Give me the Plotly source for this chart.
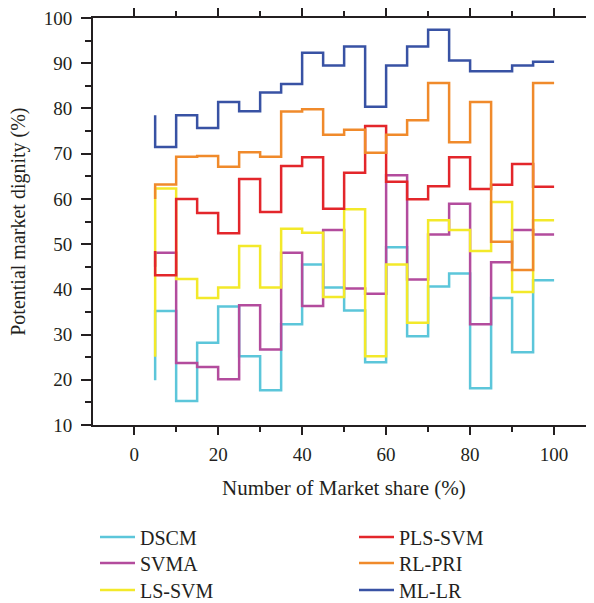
import plotly.graph_objects as go

# Data
x_share = [5, 10, 15, 20, 25, 30, 35, 40, 45, 50, 55, 60, 65, 70, 75, 80, 85, 90, 95, 100]

dscm = [19.9, 35.2, 15.3, 28.2, 36.2, 25.2, 17.7, 32.3, 45.5, 40.4,
        35.3, 23.9, 49.3, 29.6, 40.6, 43.5, 18.1, 38.1, 26.1, 42.0]
svma = [45.0, 48.1, 23.7, 22.8, 20.1, 36.5, 26.7, 48.1, 36.3, 53.1,
        40.2, 39.0, 65.2, 42.2, 52.1, 58.9, 32.3, 46.0, 53.1, 52.1]
ls_svm = [25.1, 62.3, 42.3, 38.1, 40.4, 49.6, 40.4, 53.4, 52.5, 38.3,
          57.7, 25.2, 45.5, 32.6, 55.3, 53.1, 48.5, 59.3, 39.4, 55.3]
pls_svm = [48.5, 43.1, 60.0, 56.9, 52.4, 64.4, 57.1, 67.3, 69.2, 57.8,
           65.8, 76.1, 63.8, 59.9, 62.8, 69.2, 62.2, 63.1, 67.7, 62.7]
rl_pri = [60.0, 63.2, 69.3, 69.5, 67.1, 70.3, 69.3, 79.3, 79.8, 74.2,
          75.3, 70.2, 74.2, 77.4, 85.6, 72.5, 81.4, 50.5, 44.3, 85.6]
ml_lr = [78.5, 71.5, 78.5, 75.7, 81.4, 79.4, 83.5, 85.4, 92.3, 89.5,
         93.7, 80.4, 89.5, 93.7, 97.4, 90.6, 88.2, 88.2, 89.5, 90.3]

series_names = ["DSCM", "SVMA", "LS-SVM", "PLS-SVM", "RL-PRI", "ML-LR"]
series_values = [dscm, svma, ls_svm, pls_svm, rl_pri, ml_lr]
series_colors = ["#5CC6DA", "#B34C9D", "#F3E92A", "#E3262B", "#F08A2B", "#3852A4"]

# page body has an 8px margin, so the figure is sized to fit the window
W, H = 586, 595
FONT = "Liberation Serif"
TXT = "#231f20"

L, R, T, B = 85, 0, 10, 177.5
PH = H - T - B

# legend grid: 2 columns x 3 rows (each entry its own legend box)
leg_cols = [87, 346]
leg_rows = [529, 555, 582]

fig = go.Figure()
legend_layout = {}
for i, (name, ys, color) in enumerate(zip(series_names, series_values, series_colors)):
    key = "legend" if i == 0 else f"legend{i + 1}"
    fig.add_trace(go.Scatter(
        x=x_share, y=ys, name=name, mode="lines",
        line=dict(color=color, width=2.5, shape="vh"),
        legend=key,
    ))
    col, row = divmod(i, 3)
    legend_layout[key] = dict(
        xref="container", yref="container",
        x=leg_cols[col] / W, y=1 - leg_rows[row] / H,
        xanchor="left", yanchor="middle",
        font=dict(family=FONT, size=20, color=TXT),
        bgcolor="rgba(0,0,0,0)", itemwidth=35,
    )

fig.update_layout(
    width=W, height=H,
    margin=dict(l=L, r=R, t=T, b=B, autoexpand=False),
    plot_bgcolor="white", paper_bgcolor="white",
    font=dict(family=FONT, size=19, color=TXT),
    xaxis=dict(
        range=[-9.8, 109.5], showgrid=False, zeroline=False,
        showline=True, linecolor="#231f20", linewidth=2,
        mirror="ticks",
        ticks="outside", ticklen=8, tickwidth=2, tickcolor="#231f20",
        tickvals=[0, 20, 40, 60, 80, 100],
        minor=dict(tickvals=[-10, 10, 30, 50, 70, 90], ticks="outside",
                   ticklen=5, tickwidth=2, tickcolor="#231f20"),
        tickfont=dict(family=FONT, size=19, color=TXT),
        ticklabelstandoff=3,
        ticklabeloverflow="allow",
    ),
    yaxis=dict(
        range=[10, 100], showgrid=False, zeroline=False,
        showline=True, linecolor="#231f20", linewidth=2,
        ticks="outside", ticklen=10, tickwidth=2, tickcolor="#231f20",
        tickvals=[10, 20, 30, 40, 50, 60, 70, 80, 90, 100],
        minor=dict(tickvals=[15, 25, 35, 45, 55, 65, 75, 85, 95],
                   ticks="outside", ticklen=6, tickwidth=2, tickcolor="#231f20"),
        tickfont=dict(family=FONT, size=19, color=TXT),
        ticklabelstandoff=5,
        ticklabeloverflow="allow",
    ),
    annotations=[
        dict(text="Number of Market share (%)", xref="paper", yref="paper",
             x=0.5, y=(T + PH - 481) / PH,
             xanchor="center", yanchor="middle", showarrow=False,
             font=dict(family=FONT, size=21, color=TXT)),
        dict(text="Potential market dignity (%)", xref="paper", yref="paper",
             x=(11 - L) / (W - L - R), y=(T + PH - 214) / PH, textangle=-90,
             xanchor="center", yanchor="middle", showarrow=False,
             font=dict(family=FONT, size=20, color=TXT)),
    ],
    showlegend=True,
    **legend_layout,
)

fig.write_html("out.html")
